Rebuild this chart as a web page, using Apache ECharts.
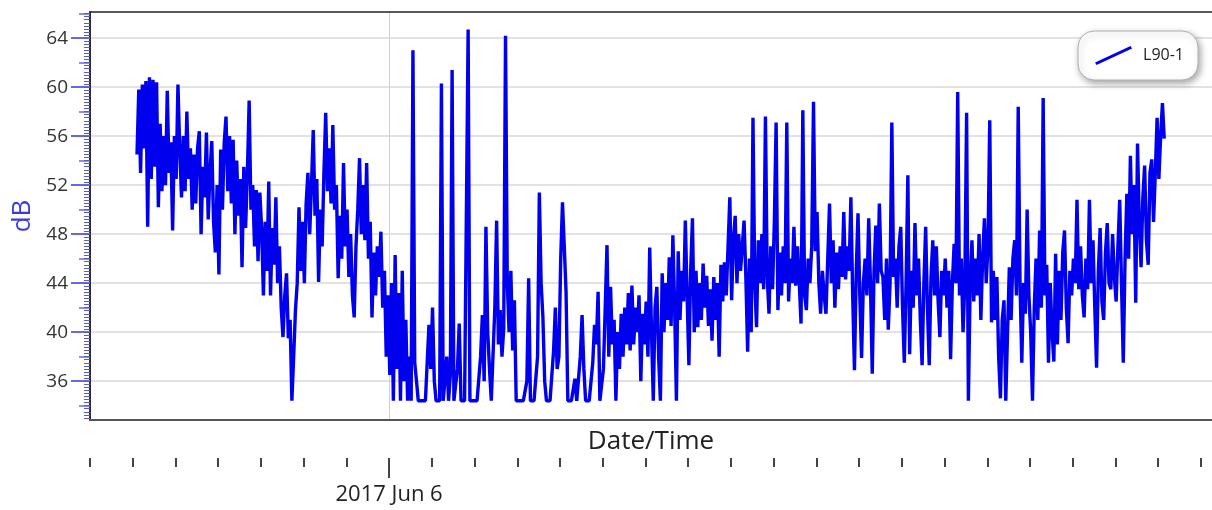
<!DOCTYPE html>
<html>
<head>
<meta charset="utf-8">
<script src="https://cdn.jsdelivr.net/npm/echarts@6/dist/echarts.min.js"></script>
<style>
html,body{margin:0;padding:0;background:#ffffff;}
#chart{width:1212px;height:510px;}
</style>
</head>
<body>
<div id="chart"></div>
<script>
// Time is expressed in hours relative to 2017-06-06 00:00.
const seriesName = 'L90-1';
const startHour = -5.9;          // first sample (~18:06 on Jun 5)
const stepMinutes = 2.5;         // sample interval
const l90Values = [
  // 18:06 - 19:05
  54.5, 59.8, 53.0, 60.2, 55.0, 60.5, 48.6, 60.8, 52.5, 60.6, 53.5, 60.4,
  50.2, 57.0, 51.5, 56.0, 52.0, 59.7, 53.0, 55.5, 48.3, 56.0, 52.5, 60.2,
  // 19:06 - 20:05
  55.0, 51.0, 56.0, 51.5, 58.0, 52.5, 55.0, 50.0, 54.5, 50.5, 55.0, 56.4,
  48.0, 53.5, 51.0, 56.3, 49.2, 53.0, 55.6, 49.0, 46.5, 52.0, 44.7, 54.9,
  // 20:06 - 21:05
  50.0, 55.5, 57.6, 51.5, 56.0, 50.5, 55.7, 48.0, 54.0, 49.5, 52.5, 45.3,
  53.5, 48.5, 53.0, 58.9, 50.0, 52.0, 47.0, 51.6, 45.8, 51.4, 48.5, 43.0,
  // 21:06 - 22:05
  49.0, 45.0, 52.3, 43.0, 48.5, 45.5, 51.0, 44.0, 47.0, 42.0, 39.6, 43.0,
  44.8, 39.5, 41.0, 34.4, 38.0, 41.8, 44.0, 50.2, 45.0, 49.0, 44.0, 50.5,
  // 22:06 - 23:05
  53.0, 48.0, 52.0, 56.5, 49.5, 52.5, 44.1, 50.0, 47.0, 53.0, 57.9, 51.5,
  55.0, 50.5, 56.9, 50.0, 52.0, 44.4, 49.5, 46.0, 53.8, 47.0, 50.0, 44.5,
  // 23:06 - 00:05
  48.0, 43.0, 41.2, 47.0, 50.0, 54.2, 48.0, 52.0, 47.5, 53.8, 46.0, 49.0,
  41.2, 46.5, 43.0, 47.0, 44.5, 48.2, 42.0, 45.0, 38.0, 43.0, 36.5, 44.0,
  // 00:06 - 01:05
  34.4, 46.3, 37.0, 43.2, 34.4, 45.0, 36.0, 41.0, 34.4, 38.0, 34.4, 63.0,
  37.5, 36.0, 34.4, 34.4, 34.4, 34.4, 34.4, 34.4, 40.6, 37.0, 42.0, 36.0,
  // 01:06 - 02:05
  34.4, 34.4, 34.4, 60.3, 34.4, 34.4, 38.0, 34.4, 36.5, 61.4, 34.4, 34.4,
  37.0, 40.7, 34.4, 34.4, 34.4, 34.4, 64.7, 34.4, 34.4, 34.4, 34.4, 34.4,
  // 02:06 - 03:05
  34.4, 38.0, 41.4, 36.0, 48.6, 40.0, 37.0, 34.4, 34.4, 42.0, 49.1, 39.0,
  41.8, 38.0, 40.3, 64.2, 44.0, 40.0, 45.0, 38.5, 42.6, 34.4, 34.4, 34.4,
  // 03:06 - 04:05
  34.4, 34.4, 34.4, 36.0, 44.4, 34.4, 34.4, 34.4, 34.4, 38.0, 51.4, 44.0,
  41.2, 36.0, 34.4, 34.4, 34.4, 34.4, 38.5, 42.0, 37.0, 38.0, 46.0, 50.6,
  // 04:06 - 05:05
  47.0, 43.3, 34.4, 34.4, 34.4, 34.4, 36.2, 34.4, 34.4, 38.0, 41.4, 37.0,
  34.4, 34.4, 34.4, 34.4, 37.5, 40.6, 39.0, 43.3, 34.4, 34.4, 37.0, 42.0,
  // 05:06 - 06:05
  47.1, 38.0, 43.7, 39.0, 41.0, 34.4, 40.0, 37.0, 41.5, 38.0, 42.0, 39.0,
  43.2, 38.5, 43.8, 39.0, 42.0, 40.0, 43.0, 36.0, 41.5, 39.0, 42.5, 38.0,
  // 06:06 - 07:05
  46.9, 40.0, 34.4, 42.0, 43.7, 38.0, 34.4, 44.8, 40.0, 44.0, 41.0, 46.1,
  40.5, 47.9, 42.0, 34.4, 46.6, 41.0, 45.0, 42.5, 49.1, 43.0, 37.3, 45.0,
  // 07:06 - 08:05
  49.3, 40.0, 45.0, 40.4, 44.0, 41.0, 45.6, 42.0, 44.6, 40.5, 43.5, 39.3,
  44.5, 41.0, 44.0, 38.0, 45.5, 42.5, 45.7, 43.0, 47.0, 51.0, 42.6, 47.5,
  // 08:06 - 09:05
  49.5, 44.0, 48.0, 45.0, 47.0, 49.1, 44.5, 38.4, 46.0, 40.0, 57.5, 44.0,
  40.4, 47.5, 44.0, 48.0, 43.5, 57.6, 44.5, 41.5, 47.0, 43.5, 49.0, 57.1,
  // 09:06 - 10:05
  41.8, 46.5, 43.0, 47.0, 44.0, 57.1, 42.5, 46.0, 44.0, 48.6, 43.8, 47.0,
  44.0, 40.7, 58.1, 43.0, 41.8, 46.0, 44.0, 47.0, 58.8, 46.6, 49.8, 44.0,
  // 10:06 - 11:05
  41.5, 45.0, 43.0, 41.5, 46.0, 50.5, 44.0, 47.5, 42.0, 46.5, 43.5, 47.0,
  44.5, 49.8, 44.3, 47.0, 45.0, 51.0, 43.0, 36.9, 45.0, 49.7, 43.0, 37.9,
  // 11:06 - 12:05
  44.0, 46.0, 43.0, 49.3, 44.0, 36.6, 45.0, 48.7, 44.0, 50.5, 45.0, 44.5,
  41.0, 46.0, 40.2, 44.0, 57.1, 44.5, 46.0, 42.0, 47.0, 48.6, 42.0, 37.5,
  // 12:06 - 13:05
  44.0, 52.8, 38.2, 45.0, 42.0, 48.9, 43.0, 46.0, 41.0, 37.3, 44.0, 48.6,
  42.0, 37.3, 44.5, 47.5, 43.0, 47.0, 42.5, 39.6, 45.0, 43.0, 46.0, 42.0,
  // 13:06 - 14:05
  45.0, 37.8, 44.0, 47.2, 44.0, 59.6, 43.0, 46.0, 40.0, 44.0, 57.9, 34.4,
  44.0, 47.5, 42.5, 46.0, 43.0, 48.0, 41.0, 46.0, 49.3, 44.0, 47.0, 57.3,
  // 14:06 - 15:05
  40.8, 45.0, 41.0, 44.5, 38.0, 34.6, 41.0, 42.6, 34.4, 40.0, 45.3, 41.0,
  46.0, 47.5, 43.0, 58.4, 44.0, 37.5, 44.0, 41.5, 50.0, 43.0, 40.0, 34.4,
  // 15:06 - 16:05
  42.0, 46.0, 41.0, 48.3, 42.0, 59.1, 43.0, 45.5, 37.5, 44.0, 40.0, 37.6,
  46.4, 39.0, 45.0, 41.0, 46.5, 48.3, 42.0, 39.1, 45.0, 43.0, 46.0, 44.0,
  // 16:06 - 17:05
  50.8, 43.5, 47.0, 43.0, 41.2, 46.0, 43.5, 50.8, 44.0, 47.5, 42.0, 37.1,
  45.0, 48.5, 42.5, 41.0, 46.5, 48.9, 44.0, 43.5, 48.0, 44.5, 42.5, 47.0,
  // 17:06 - 18:10
  50.8, 44.0, 37.5, 46.0, 51.3, 46.0, 54.4, 48.0, 52.0, 42.4, 55.4, 49.0,
  45.3, 51.0, 53.6, 47.5, 45.5, 53.0, 54.1, 49.0, 53.0, 57.5, 52.5, 56.0,
  58.7, 55.8
];
const yLabelValues = [36, 40, 44, 48, 52, 56, 60, 64];
const yMidTickValues = [34, 38, 42, 46, 50, 54, 58, 62, 66];
const xHourTicks = [-7,-6,-5,-4,-3,-2,-1,0,1,2,3,4,5,6,7,8,9,10,11,12,13,14,15,16,17,18,19];
const xDateTickHours = [0];
const xDateTickLabels = ['2017 Jun 6'];

const yMin = 32.83, yMax = 66.13;
const xMin = -7, xMax = 19.26;

const yMinorTicks = [];
for (let v = 33; v <= 66.001; v += 0.25) yMinorTicks.push(Math.round(v * 100) / 100);

const seriesData = l90Values.map((v, i) => [startHour + i * stepMinutes / 60, v]);

const FONT = '"Open Sans", "Noto Sans", sans-serif';

const chart = echarts.init(document.getElementById('chart'), null, {renderer: 'canvas'});
chart.setOption({
  animation: false,
  backgroundColor: '#ffffff',
  grid: {left: 90, right: -2, top: 12, bottom: 90, containLabel: false},
  legend: {
    data: [seriesName],
    right: 14, top: 31,
    backgroundColor: '#ffffff',
    borderColor: '#b0b0b0', borderWidth: 1, borderRadius: 16,
    shadowBlur: 7, shadowColor: 'rgba(0,0,0,0.35)', shadowOffsetX: 2, shadowOffsetY: 3,
    padding: [15, 14, 15, 17],
    itemWidth: 37, itemHeight: 19,
    icon: 'path://M0,16.5 L35.5,0 L37,2.5 L1.5,19 Z',
    itemStyle: {borderWidth: 0},
    textStyle: {fontFamily: FONT, fontSize: 16, color: '#222', padding: [0, 0, 0, 6]}
  },
  xAxis: [
    {
      type: 'value', min: xMin, max: xMax, position: 'bottom',
      axisLine: {show: true, onZero: false, lineStyle: {color: '#555', width: 2}},
      axisTick: {show: false, customValues: xDateTickHours},
      axisLabel: {show: false},
      splitLine: {show: true, lineStyle: {color: '#d0d0d0', width: 1}},
      name: 'Date/Time', nameLocation: 'middle', nameGap: 9,
      nameTextStyle: {fontFamily: FONT, fontSize: 26, color: '#222', verticalAlign: 'top'}
    },
    {
      type: 'value', min: xMin, max: xMax, position: 'bottom', offset: 38,
      axisLine: {show: false, onZero: false},
      axisTick: {show: true, customValues: xHourTicks, length: 9, lineStyle: {color: '#444', width: 2}},
      axisLabel: {show: false},
      splitLine: {show: false}
    },
    {
      type: 'value', min: xMin, max: xMax, position: 'bottom', offset: 38,
      axisLine: {show: false, onZero: false},
      axisTick: {show: true, customValues: xDateTickHours, length: 20, lineStyle: {color: '#444', width: 2}},
      axisLabel: {
        show: true, customValues: xDateTickHours, margin: 26,
        fontFamily: FONT, fontSize: 22, color: '#222',
        formatter: (v) => { const k = xDateTickHours.indexOf(v); return k >= 0 ? xDateTickLabels[k] : ''; }
      },
      splitLine: {show: false}
    },
    {
      type: 'value', min: xMin, max: xMax, position: 'top',
      axisLine: {show: true, onZero: false, lineStyle: {color: '#222', width: 1.5}},
      axisTick: {show: false}, axisLabel: {show: false}, splitLine: {show: false}
    }
  ],
  yAxis: [
    {
      type: 'value', min: yMin, max: yMax, position: 'left',
      axisLine: {show: true, onZero: false, lineStyle: {color: '#2a2a40', width: 2}},
      axisTick: {show: true, customValues: yLabelValues, length: 19, lineStyle: {color: '#6868e4', width: 2}},
      axisLabel: {show: true, customValues: yLabelValues, margin: 22, fontFamily: FONT, fontSize: 19, color: '#333'},
      splitLine: {show: true, lineStyle: {color: '#d8d8d8', width: 1.5}},
      name: 'dB', nameLocation: 'middle', nameGap: 42,
      nameTextStyle: {fontFamily: FONT, fontSize: 26, color: '#3a3ae0'}
    },
    {
      type: 'value', min: yMin, max: yMax, position: 'left', offset: 0,
      axisLine: {show: false, onZero: false},
      axisTick: {show: true, customValues: yMidTickValues, length: 11, lineStyle: {color: '#6868e4', width: 1.5}},
      axisLabel: {show: false}, splitLine: {show: false}
    },
    {
      type: 'value', min: yMin, max: yMax, position: 'left', offset: 0,
      axisLine: {show: false, onZero: false},
      axisTick: {show: true, customValues: yMinorTicks, length: 6, lineStyle: {color: '#5a5ad0', width: 1}},
      axisLabel: {show: false}, splitLine: {show: false}
    }
  ],
  series: [{
    name: seriesName,
    type: 'line',
    xAxisIndex: 0, yAxisIndex: 0,
    data: seriesData,
    symbol: 'none', showSymbol: false,
    color: '#0000ee',
    lineStyle: {color: '#0000ee', width: 3.4, join: 'bevel'},
    z: 5
  }]
});
</script>
</body>
</html>
